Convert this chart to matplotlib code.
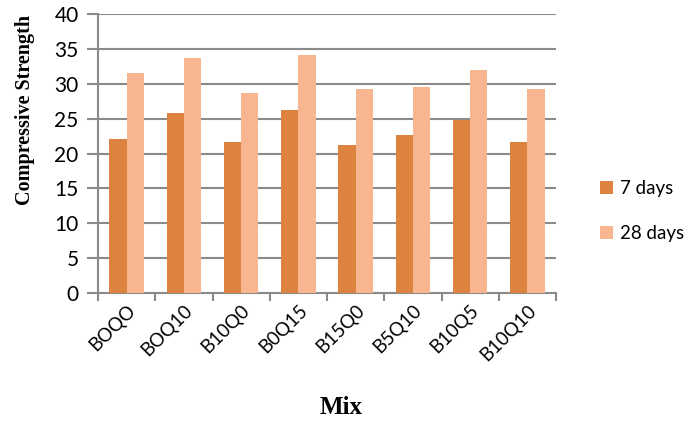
import matplotlib
matplotlib.use("Agg")
import matplotlib.pyplot as plt
import numpy as np

mixes = ["BOQO", "BOQ10", "B10Q0", "B0Q15", "B15Q0", "B5Q10", "B10Q5", "B10Q10"]
days_7 = [22.1, 25.8, 21.7, 26.2, 21.2, 22.7, 24.8, 21.7]
days_28 = [31.5, 33.7, 28.7, 34.1, 29.2, 29.6, 31.9, 29.2]
y_ticks = [0, 5, 10, 15, 20, 25, 30, 35, 40]

W, H = 696, 421
fig = plt.figure(figsize=(W / 100, H / 100), dpi=100)
ax = fig.add_axes([98 / W, 1 - 293 / H, (556 - 98) / W, (293 - 14) / H])

x = np.arange(len(mixes))
bw = 0.3
ax.bar(x - bw / 2, days_7, width=bw, color="#dc843f", label="7 days", zorder=3)
ax.bar(x + bw / 2, days_28, width=bw, color="#f8b690", label="28 days", zorder=3)

ax.set_xlim(-0.5, len(mixes) - 0.5)
ax.set_ylim(0, 40)
ax.set_yticks(y_ticks)
ax.set_yticklabels([str(t) for t in y_ticks], fontsize=15, family="Lato")
ax.yaxis.grid(True, color="#8a8a8a", linewidth=1.5, zorder=0)
ax.set_axisbelow(True)

# category boundary ticks below the axis, labels centered on categories
ax.set_xticks(np.arange(len(mixes) + 1) - 0.5)
ax.set_xticklabels([])
ax.set_xticks(x, minor=True)
ax.set_xticklabels(mixes, minor=True, rotation=45, ha="right", va="top",
                   rotation_mode="anchor", fontsize=13.5, family="Lato")
ax.tick_params(axis="x", which="minor", length=0, pad=6)
ax.tick_params(axis="x", which="major", length=6, color="#8a8a8a", width=1.5)
ax.tick_params(axis="y", length=8, color="#8a8a8a", width=1.5, pad=6)

for s in ["top", "right"]:
    ax.spines[s].set_visible(False)
for s in ["left", "bottom"]:
    ax.spines[s].set_color("#8a8a8a")
    ax.spines[s].set_linewidth(1.5)

fig.text(25 / W, 1 - 110 / H, "Compressive Strength", rotation=90,
         ha="center", va="center", fontsize=14.5, fontweight="bold",
         family="Liberation Serif")
fig.text(341 / W, 1 - 408 / H, "Mix", ha="center", va="center",
         fontsize=18, fontweight="bold", family="Liberation Serif")

leg = fig.legend(loc="center left", bbox_to_anchor=(583 / W, 1 - 211 / H),
                 frameon=False, prop={"family": "Lato", "size": 13.5},
                 handlelength=0.7, handleheight=0.7, handletextpad=0.4,
                 labelspacing=1.5)

fig.savefig("out.png", dpi=100)
